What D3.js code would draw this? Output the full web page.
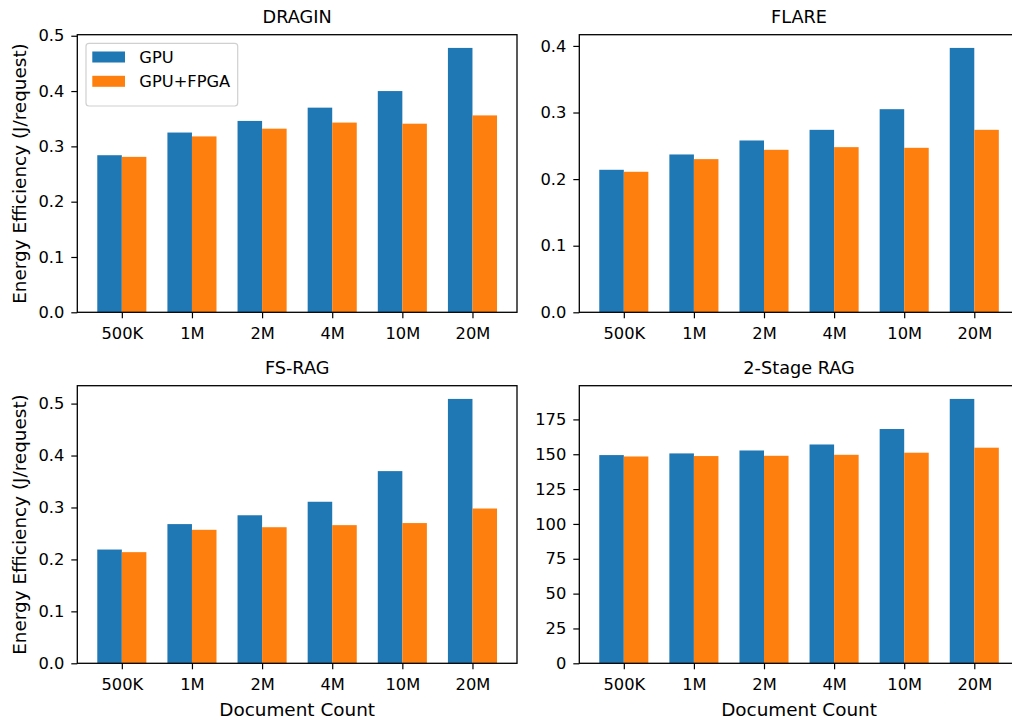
<!DOCTYPE html>
<html>
<head>
<meta charset="utf-8">
<script src="https://cdn.jsdelivr.net/npm/d3@7"></script>
<style>
  body { margin: 0; background: #fff; }
  text { font-family: "DejaVu Sans", sans-serif; fill: #000; }
</style>
</head>
<body>
<div id="chart"></div>
<script>
(function() {

  var width = 1012, height = 721;

  // data
  var categories = ["500K", "1M", "2M", "4M", "10M", "20M"];
  var seriesNames = ["GPU", "GPU+FPGA"];
  var colors = ["#1f77b4", "#ff7f0e"];

  var draginGpu  = [0.284, 0.325, 0.346, 0.370, 0.400, 0.478];
  var draginFpga = [0.281, 0.318, 0.332, 0.343, 0.341, 0.356];
  var flareGpu   = [0.214, 0.237, 0.258, 0.274, 0.305, 0.397];
  var flareFpga  = [0.211, 0.230, 0.244, 0.248, 0.247, 0.274];
  var fsragGpu   = [0.219, 0.268, 0.285, 0.311, 0.370, 0.509];
  var fsragFpga  = [0.214, 0.257, 0.262, 0.266, 0.270, 0.298];
  var twoGpu     = [149.4, 150.6, 152.7, 157.0, 168.1, 189.7];
  var twoFpga    = [148.4, 148.7, 148.9, 149.6, 151.1, 154.7];

  var ticksSmall = [0, 0.1, 0.2, 0.3, 0.4, 0.5];
  var ticksFlare = [0, 0.1, 0.2, 0.3, 0.4];
  var ticksTwo   = [0, 25, 50, 75, 100, 125, 150, 175];

  //panel layout (pixels)
  var panels = [
    { title: "DRAGIN", gpu: draginGpu, fpga: draginFpga, ticks: ticksSmall, fmt: d3.format(".1f"),
      left: 77.3, right: 517, top: 34.7, bottom: 312.3, ylabel: true, xlabel: false, legend: true },
    { title: "FLARE", gpu: flareGpu, fpga: flareFpga, ticks: ticksFlare, fmt: d3.format(".1f"),
      left: 579.3, right: 1018.8, top: 34.7, bottom: 312.3, ylabel: false, xlabel: false },
    { title: "FS-RAG", gpu: fsragGpu, fpga: fsragFpga, ticks: ticksSmall, fmt: d3.format(".1f"),
      left: 77.3, right: 517, top: 385.7, bottom: 663.3, ylabel: true, xlabel: true },
    { title: "2-Stage RAG", gpu: twoGpu, fpga: twoFpga, ticks: ticksTwo, fmt: d3.format("d"),
      left: 579.3, right: 1018.8, top: 385.7, bottom: 663.3, ylabel: false, xlabel: true }
  ];

  var barW = 0.35;

  var svg = d3.select("#chart").append("svg")
    .attr("width", width)
    .attr("height", height);

  panels.forEach(function(p) {
    var ymax = d3.max(p.gpu.concat(p.fpga)) * 1.05;
    var n = categories.length;
    var pad = (n - 1 + 2 * barW) * 0.05;

    var x = d3.scaleLinear()
      .domain([-barW - pad, n - 1 + barW + pad])
      .range([p.left, p.right]);
    var y = d3.scaleLinear()
      .domain([0, ymax])
      .range([p.bottom, p.top]);

    var g = svg.append("g");

    //bars
    [p.gpu, p.fpga].forEach(function(vals, s) {
      g.selectAll("rect.s" + s)
        .data(vals)
        .enter().append("rect")
        .attr("class", "s" + s)
        .attr("x", function(d, i) { return x(i - barW + s * barW); })
        .attr("width", function(d, i) { return x(i + barW) - x(i); })
        .attr("y", function(d) { return y(d); })
        .attr("height", function(d) { return y(0) - y(d); })
        .attr("fill", colors[s]);
    });

    //axes
    var xAxis = d3.axisBottom(x)
      .tickValues(d3.range(n))
      .tickFormat(function(i) { return categories[i]; })
      .tickSize(6).tickPadding(9);
    var yAxis = d3.axisLeft(y)
      .tickValues(p.ticks)
      .tickFormat(p.fmt)
      .tickSize(6).tickPadding(7);

    var gx = g.append("g").attr("transform", "translate(0," + p.bottom + ")").call(xAxis);
    var gy = g.append("g").attr("transform", "translate(" + p.left + ",0)").call(yAxis);
    [gx, gy].forEach(function(a) {
      a.select(".domain").remove();
      a.attr("font-family", "DejaVu Sans").attr("font-size", 16.3);
      a.selectAll(".tick line").attr("stroke", "#000").attr("stroke-width", 1.2);
      a.selectAll(".tick text").attr("fill", "#000");
    });

    //frame
    g.append("rect")
      .attr("x", p.left).attr("y", p.top)
      .attr("width", p.right - p.left).attr("height", p.bottom - p.top)
      .attr("fill", "none").attr("stroke", "#000").attr("stroke-width", 1.3);

    //title
    g.append("text")
      .attr("x", (p.left + p.right) / 2).attr("y", p.top - 12)
      .attr("text-anchor", "middle")
      .attr("font-size", 17.7)
      .text(p.title);

    if (p.ylabel) {
      g.append("text")
        .attr("transform", "translate(25.7," + ((p.top + p.bottom) / 2) + ") rotate(-90)")
        .attr("text-anchor", "middle")
        .attr("font-size", 18.4)
        .text("Energy Efficiency (J/request)");
    }
    if (p.xlabel) {
      g.append("text")
        .attr("x", (p.left + p.right) / 2).attr("y", 716)
        .attr("text-anchor", "middle")
        .attr("font-size", 18.4)
        .text("Document Count");
    }

    if (p.legend) {
      var lg = g.append("g");
      lg.append("rect")
        .attr("x", 86).attr("y", 43.3)
        .attr("width", 151.7).attr("height", 62.7)
        .attr("rx", 3).attr("ry", 3)
        .attr("fill", "#fff").attr("fill-opacity", 0.8)
        .attr("stroke", "#d0d0d0").attr("stroke-width", 1.2);
      seriesNames.forEach(function(name, s) {
        var cy = 57 + s * 24.3;
        lg.append("rect")
          .attr("x", 92.3).attr("y", cy - 5.5)
          .attr("width", 32.7).attr("height", 11)
          .attr("fill", colors[s]);
        lg.append("text")
          .attr("x", 139.3).attr("y", cy + 6)
          .attr("font-size", 16.3)
          .text(name);
      });
    }
  });

})();
</script>
</body>
</html>
